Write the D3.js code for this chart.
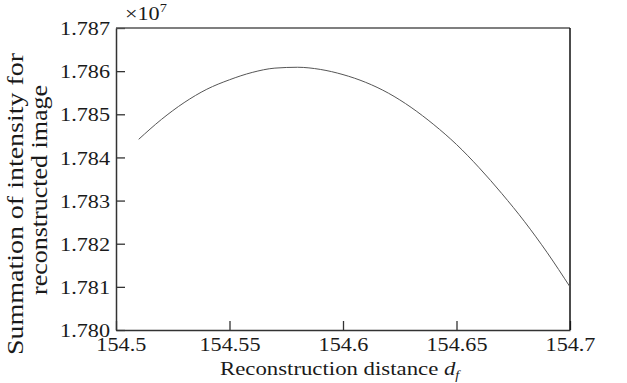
<!DOCTYPE html>
<html>
<head>
<meta charset="utf-8">
<script src="https://cdn.jsdelivr.net/npm/d3@7"></script>
<style>
  body { margin: 0; background: #fff; }
  svg text { font-family: "Liberation Serif", "Times New Roman", serif; }
</style>
</head>
<body>
<div id="chart"></div>
<script>
// reconstruction distance d_f
const distances = [154.51, 154.52, 154.53, 154.54, 154.55, 154.56, 154.57, 154.58, 154.59, 154.60,
  154.61, 154.62, 154.63, 154.64, 154.65, 154.66, 154.67, 154.68, 154.69, 154.70];
// summed intensity, in units of 1e7
const intensity = [1.78442, 1.78488, 1.78527, 1.78558, 1.78580, 1.78597, 1.78607, 1.78609, 1.78604, 1.78592,
  1.78574, 1.78549, 1.78516, 1.78476, 1.78430, 1.78376, 1.78316, 1.78251, 1.78179, 1.78100];

const xTicks = [154.5, 154.55, 154.6, 154.65, 154.7];
const xTickLabels = ['154.5', '154.55', '154.6', '154.65', '154.7'];
const yTicks = [1.780, 1.781, 1.782, 1.783, 1.784, 1.785, 1.786, 1.787];

const width = 627;
const height = 383;
const margin = { left: 116, top: 28, right: 57, bottom: 53 };
const serif = '"Liberation Serif", "Times New Roman", serif';
// the source figure is stretched sideways, so text is widened to match
const STRETCH = 1.2;
const ink = '#1a1a1a';

const svg = d3.select('#chart')
  .append('svg')
  .attr('width', width)
  .attr('height', height);

const x = d3.scaleLinear()
  .domain([154.5, 154.7])
  .range([margin.left, width - margin.right]);

const y = d3.scaleLinear()
  .domain([1.780, 1.787])
  .range([height - margin.bottom, margin.top]);

const xAxis = d3.axisBottom(x)
  .tickValues(xTicks)
  .tickFormat((d, i) => xTickLabels[i])
  .tickSizeInner(-9)
  .tickSizeOuter(0)
  .tickPadding(8);

const yAxis = d3.axisLeft(y)
  .tickValues(yTicks)
  .tickFormat(d3.format('.3f'))
  .tickSizeInner(-9)
  .tickSizeOuter(0)
  .tickPadding(5);

const gx = svg.append('g')
  .attr('transform', `translate(0,${height - margin.bottom})`)
  .call(xAxis);

const gy = svg.append('g')
  .attr('transform', `translate(${margin.left},0)`)
  .call(yAxis);

[gx, gy].forEach(g => {
  g.attr('font-family', serif).attr('font-size', 18.5);
  g.select('.domain').attr('stroke', '#333').attr('stroke-width', 1.5);
  g.selectAll('.tick line').attr('stroke', '#333').attr('stroke-width', 1.3);
  g.selectAll('.tick text')
    .attr('fill', ink)
    .attr('transform', `scale(${STRETCH},1)`);
});
// first x label sits a little right so it clears 1.780
gx.selectAll('.tick text').filter((d, i) => i === 0).attr('dx', 4);
gy.selectAll('.tick text').attr('dy', '0.36em');

// top and right frame
svg.append('line')
  .attr('x1', x(154.5)).attr('x2', x(154.7))
  .attr('y1', y(1.787)).attr('y2', y(1.787))
  .attr('stroke', '#555').attr('stroke-width', 1.5);
svg.append('line')
  .attr('x1', x(154.7)).attr('x2', x(154.7))
  .attr('y1', y(1.787)).attr('y2', y(1.780))
  .attr('stroke', '#111').attr('stroke-width', 1.5);

const line = d3.line()
  .x((d, i) => x(distances[i]))
  .y(d => y(d))
  .curve(d3.curveMonotoneX);

svg.append('path')
  .datum(intensity)
  .attr('fill', 'none')
  .attr('stroke', '#555')
  .attr('stroke-width', 1)
  .attr('d', line);

// exponent
const exp = svg.append('text')
  .attr('transform', `translate(125,20) scale(${STRETCH},1)`)
  .attr('fill', ink)
  .style('font-size', '18.5px');
exp.append('tspan').text('\u00d710');
exp.append('tspan').attr('dy', -8).style('font-size', '12px').text('7');

// y title, two lines (rotated, so the stretch runs along the glyph height)
svg.append('text')
  .attr('transform', 'translate(23,204) rotate(-90)')
  .attr('text-anchor', 'middle')
  .attr('fill', ink)
  .style('font-size', '23px')
  .attr('textLength', 302)
  .attr('lengthAdjust', 'spacingAndGlyphs')
  .text('Summation of intensity for');
svg.append('text')
  .attr('transform', 'translate(47,190) rotate(-90)')
  .attr('text-anchor', 'middle')
  .attr('fill', ink)
  .style('font-size', '23px')
  .attr('textLength', 210)
  .attr('lengthAdjust', 'spacingAndGlyphs')
  .text('reconstructed image');

// x title
const xt = svg.append('text')
  .attr('transform', `translate(220,375) scale(${STRETCH},1)`)
  .attr('fill', ink)
  .style('font-size', '19px');
xt.append('tspan').text('Reconstruction distance ');
xt.append('tspan').style('font-style', 'italic').text('d');
xt.append('tspan').attr('dy', 4).style('font-style', 'italic').style('font-size', '12px').text('f');
</script>
</body>
</html>
